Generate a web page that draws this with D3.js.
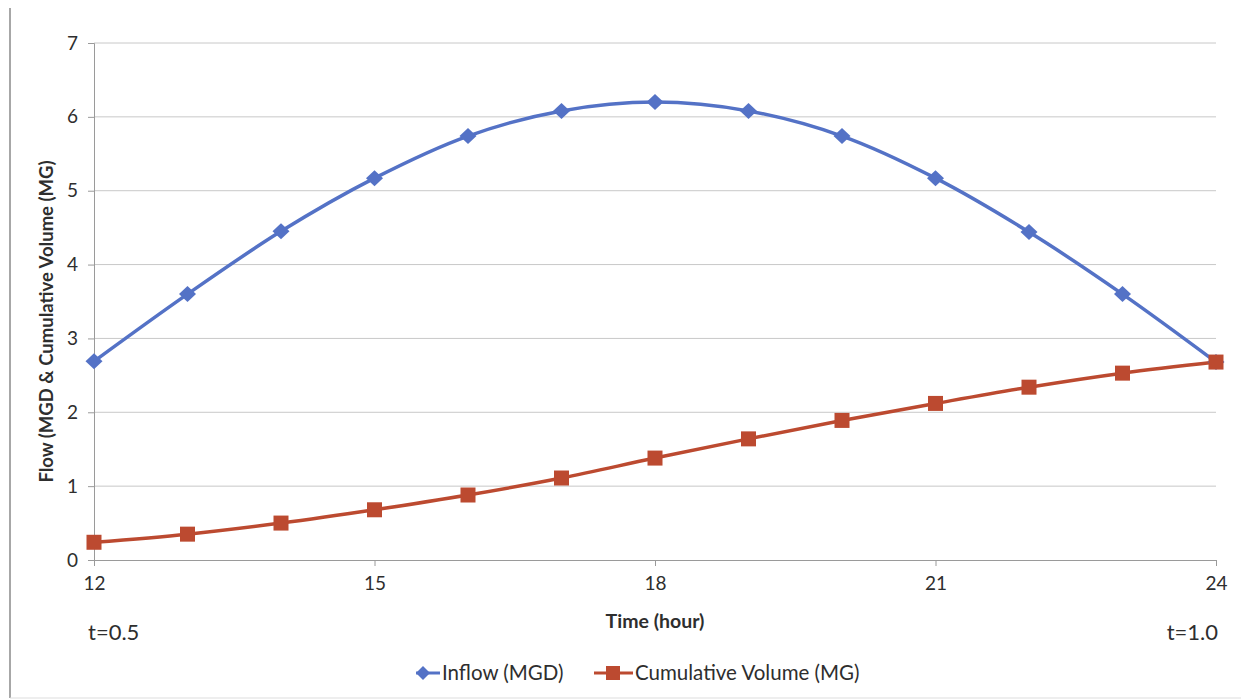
<!DOCTYPE html>
<html>
<head>
<meta charset="utf-8">
<script src="https://cdn.jsdelivr.net/npm/d3@7/dist/d3.min.js"></script>
<style>
  html, body { margin: 0; padding: 0; background: #fff; }
  svg { display: block; font-family: Lato, "Open Sans", sans-serif; }
</style>
</head>
<body>
<svg id="chart" width="1241" height="700"></svg>
<script>
// Hourly time points (hour of day)
const hours = [12, 13, 14, 15, 16, 17, 18, 19, 20, 21, 22, 23, 24];
// Inflow rate (MGD)
const inflow = [2.69, 3.60, 4.45, 5.17, 5.74, 6.08, 6.20, 6.08, 5.74, 5.17, 4.44, 3.60, 2.68];
// Cumulative volume (MG)
const cumulative = [0.24, 0.35, 0.50, 0.68, 0.88, 1.11, 1.38, 1.64, 1.89, 2.12, 2.34, 2.53, 2.68];
// Axis ticks
const xTicks = [12, 15, 18, 21, 24];
const yTicks = [0, 1, 2, 3, 4, 5, 6, 7];
const seriesNames = ["Inflow (MGD)", "Cumulative Volume (MG)"];

const blue = "#5472c6";
const red = "#bc4a30";
const gridColor = "#c8c8c8";
const axisColor = "#9a9a9a";
const textColor = "#2e2e2e";

const svg = d3.select("#chart");

// outer frame of the chart
svg.append("line").attr("x1", 10).attr("x2", 10).attr("y1", 8).attr("y2", 698)
  .attr("stroke", "#8a8a8a").attr("stroke-width", 1.5);
svg.append("line").attr("x1", 10).attr("x2", 1241).attr("y1", 698).attr("y2", 698)
  .attr("stroke", "#ddd").attr("stroke-width", 1);

const x = d3.scaleLinear().domain([12, 24]).range([94, 1216]);
const y = d3.scaleLinear().domain([0, 7]).range([560, 43]);

// horizontal gridlines
svg.append("g").selectAll("line").data(yTicks.filter(d => d > 0)).join("line")
  .attr("x1", x(12)).attr("x2", x(24))
  .attr("y1", d => y(d)).attr("y2", d => y(d))
  .attr("stroke", gridColor).attr("stroke-width", 1);

// y axis
const yAxis = svg.append("g").attr("transform", `translate(${x(12)},0)`)
  .call(d3.axisLeft(y).tickValues(yTicks).tickSize(6).tickPadding(10).tickFormat(d3.format("d")));
yAxis.select(".domain").attr("stroke", axisColor);
yAxis.selectAll(".tick line").attr("stroke", axisColor);
yAxis.selectAll(".tick text").attr("font-size", 19).attr("fill", textColor)
  .attr("font-family", "Lato, sans-serif");

// x axis
const xAxis = svg.append("g").attr("transform", `translate(0,${y(0)})`)
  .call(d3.axisBottom(x).tickValues(xTicks).tickSize(6).tickPadding(11).tickFormat(d3.format("d")));
xAxis.select(".domain").attr("stroke", axisColor);
xAxis.selectAll(".tick line").attr("stroke", axisColor);
xAxis.selectAll(".tick text").attr("font-size", 19).attr("fill", textColor)
  .attr("font-family", "Lato, sans-serif");

// axis titles
svg.append("text").attr("x", x(18)).attr("y", 628).attr("text-anchor", "middle")
  .attr("font-size", 19.5).attr("font-weight", "bold").attr("fill", textColor)
  .text("Time (hour)");
svg.append("text")
  .attr("transform", `translate(53,${(y(0) + y(7)) / 2 + 20}) rotate(-90)`)
  .attr("text-anchor", "middle").attr("font-size", 18.5).attr("font-weight", "bold")
  .attr("fill", textColor)
  .text("Flow (MGD & Cumulative Volume (MG)");

// dimensionless time annotations
svg.append("text").attr("x", x(12) - 6).attr("y", 640).attr("font-size", 22)
  .attr("fill", textColor).text("t=0.5");
svg.append("text").attr("x", x(24) + 2).attr("y", 640).attr("text-anchor", "end")
  .attr("font-size", 22).attr("fill", textColor).text("t=1.0");

// series lines
const line = (vals) => d3.line()
  .x((d, i) => x(hours[i]))
  .y(d => y(d))
  .curve(d3.curveCatmullRom.alpha(0.5))(vals);

svg.append("path").attr("d", line(inflow)).attr("fill", "none")
  .attr("stroke", blue).attr("stroke-width", 3.5);
svg.append("path").attr("d", line(cumulative)).attr("fill", "none")
  .attr("stroke", red).attr("stroke-width", 3.5);

// markers: wide diamonds for inflow, squares for volume
const diamondPath = (w, h) => `M0,${-h}L${w},0L0,${h}L${-w},0Z`;
svg.append("g").selectAll("path").data(inflow).join("path")
  .attr("d", diamondPath(8.5, 8))
  .attr("transform", (d, i) => `translate(${x(hours[i])},${y(d)})`)
  .attr("fill", blue);

svg.append("g").selectAll("rect").data(cumulative).join("rect")
  .attr("x", (d, i) => x(hours[i]) - 7.5).attr("y", d => y(d) - 7.5)
  .attr("width", 15).attr("height", 15)
  .attr("fill", red);

// legend
const legend = svg.append("g").attr("transform", "translate(0,673)");
legend.append("line").attr("x1", 416).attr("x2", 440).attr("y1", 0).attr("y2", 0)
  .attr("stroke", blue).attr("stroke-width", 3);
legend.append("path").attr("d", diamondPath(7, 7))
  .attr("transform", "translate(423,0)").attr("fill", blue);
legend.append("text").attr("x", 442).attr("y", 7).attr("font-size", 20.5)
  .attr("fill", textColor).text(seriesNames[0]);

legend.append("line").attr("x1", 594).attr("x2", 633).attr("y1", 0).attr("y2", 0)
  .attr("stroke", red).attr("stroke-width", 3);
legend.append("rect").attr("x", 606).attr("y", -7).attr("width", 14).attr("height", 14)
  .attr("fill", red);
legend.append("text").attr("x", 635).attr("y", 7).attr("font-size", 20.5)
  .attr("fill", textColor).text(seriesNames[1]);
</script>
</body>
</html>
